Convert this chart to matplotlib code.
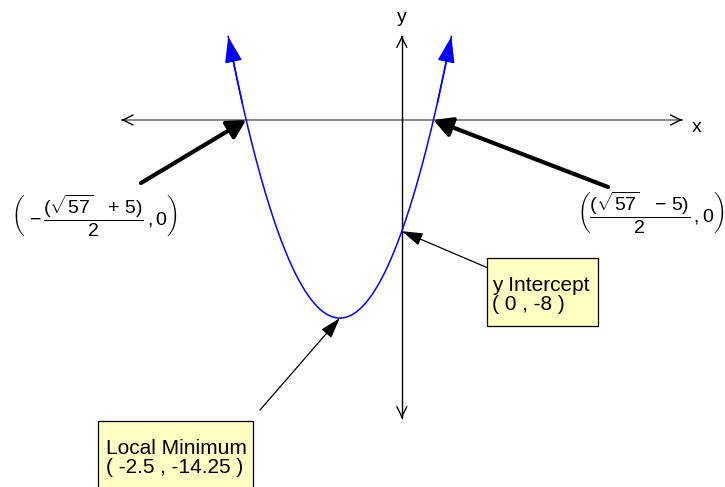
import numpy as np
import matplotlib
matplotlib.use('Agg')
import matplotlib.pyplot as plt
from matplotlib.patches import Rectangle

plt.rcParams['font.family'] = ['Liberation Sans', 'DejaVu Sans']
plt.rcParams['mathtext.fontset'] = 'custom'
plt.rcParams['mathtext.rm'] = 'Liberation Sans'
plt.rcParams['mathtext.it'] = 'Liberation Sans:italic'
plt.rcParams['mathtext.bf'] = 'Liberation Sans:bold'

# quadratic y = a x^2 + b x + c, drawn over [x_start, x_end]
coef_a, coef_b, coef_c = 1.0, 5.0, -8.0
x_start, x_end = -7.0, 2.0

# axis extents
x_axis_range = [-11.3, 11.3]
y_axis_range = [-21.45, 6.05]

# key points
roots = [(-np.sqrt(57) - 5) / 2, (np.sqrt(57) - 5) / 2]
y_intercept = (0.0, -8.0)
vertex = (-2.5, -14.25)

root_labels = [r'$\left(\ {-}\,\dfrac{(\sqrt{57}\ \ \ {+}\ 5)}{2}\,,0\right)$',
               r'$\left(\dfrac{(\sqrt{57}\ \ \ {-}\ 5)}{2}\,,0\right)$']
intercept_label = 'y Intercept\n( 0 , -8 )'
vertex_label = 'Local Minimum\n( -2.5 , -14.25 )'

box_color = '#ffffc4'

fig = plt.figure(figsize=(7.25, 4.87), dpi=100)
ax = fig.add_axes([0, 0, 1, 1])
ax.set_xlim(-16.2, 13.03)
ax.set_ylim(-26.4, 8.63)
ax.set_axis_off()

# axes lines
ax.plot(x_axis_range, [0, 0], color='#808080', lw=1.3, zorder=1)
ax.plot([0, 0], y_axis_range, color='black', lw=1, zorder=1)
for sx in (-1, 1):
    end = x_axis_range[0] if sx < 0 else x_axis_range[1]
    ax.annotate('', xy=(end, 0), xytext=(end - sx * 0.05, 0),
                arrowprops=dict(arrowstyle='->', color='black', lw=1,
                                mutation_scale=18, shrinkA=0, shrinkB=0))
for end in y_axis_range:
    sy = 1 if end > 0 else -1
    ax.annotate('', xy=(0, end), xytext=(0, end - sy * 0.1),
                arrowprops=dict(arrowstyle='->', color='black', lw=1,
                                mutation_scale=18, shrinkA=0, shrinkB=0))
ax.text(x_axis_range[1] + 0.4, -0.55, 'x', fontsize=14, ha='left', va='center')
ax.text(0, y_axis_range[1] + 0.7, 'y', fontsize=14, ha='center', va='bottom')

# parabola
xs = np.linspace(x_start, x_end, 400)
ys = coef_a * xs ** 2 + coef_b * xs + coef_c
ax.plot(xs, ys, color='blue', lw=1.1, zorder=3)
for i0, i1 in ((25, 0), (-26, -1)):
    ax.annotate('', xy=(xs[i1], ys[i1]), xytext=(xs[i0], ys[i0]),
                arrowprops=dict(arrowstyle='-|>,head_length=0.9,head_width=0.3',
                                color='blue', lw=1.1, mutation_scale=18,
                                shrinkA=0, shrinkB=0), zorder=3)

# root labels with thick arrows
root_tails = [(141, 304), (608, 300)]
root_text_pos = [(11, 271, 'left'), (724, 274, 'right')]
for r, tail, tpos, lab in zip(roots, root_tails, root_text_pos, root_labels):
    ax.annotate('', xy=(r, 0), xytext=tail, textcoords='figure pixels',
                arrowprops=dict(arrowstyle='-|>,head_length=0.55,head_width=0.3',
                                color='black', lw=3, mutation_scale=20,
                                shrinkA=0, shrinkB=0), zorder=4)
    ax.text(tpos[0], tpos[1], lab, transform=None, fontsize=14,
            ha=tpos[2], va='center')

# y intercept
ax.annotate('', xy=y_intercept, xytext=(488, 219), textcoords='figure pixels',
            arrowprops=dict(arrowstyle='-|>,head_length=0.8,head_width=0.25',
                            color='black', lw=0.9, mutation_scale=16,
                            shrinkA=0, shrinkB=0), zorder=4)
ax.add_patch(Rectangle((487, 161), 111, 68, transform=None,
                       facecolor=box_color, edgecolor='black', lw=0.9, zorder=5))
ax.text(492, 192, intercept_label, transform=None, fontsize=15,
        ha='left', va='center', linespacing=1.05, zorder=6)

# local minimum
ax.annotate('', xy=vertex, xytext=(260, 77), textcoords='figure pixels',
            arrowprops=dict(arrowstyle='-|>,head_length=0.8,head_width=0.25',
                            color='black', lw=0.9, mutation_scale=16,
                            shrinkA=0, shrinkB=0), zorder=4)
ax.add_patch(Rectangle((98, -10), 155, 76, transform=None,
                       facecolor=box_color, edgecolor='black', lw=0.9, zorder=5))
ax.text(106, 29, vertex_label, transform=None, fontsize=15,
        ha='left', va='center', linespacing=1.05, zorder=6)

fig.savefig('out.png', dpi=100)
